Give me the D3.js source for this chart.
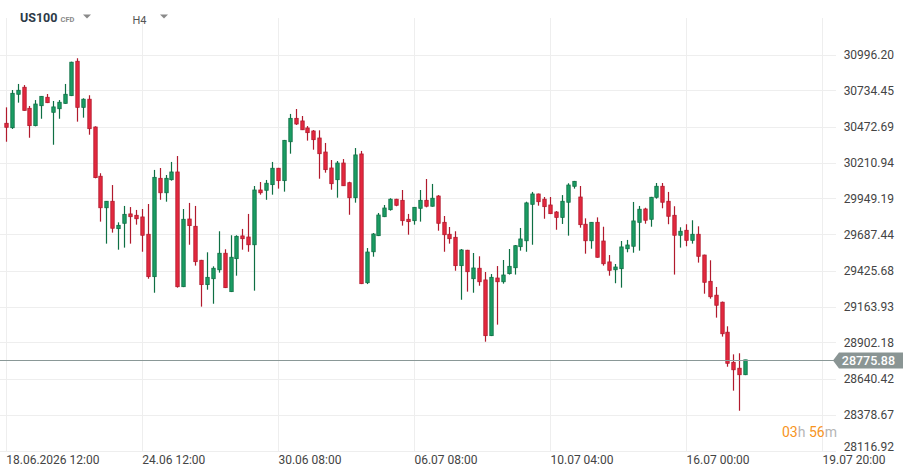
<!DOCTYPE html>
<html>
<head>
<meta charset="utf-8">
<script src="https://cdn.jsdelivr.net/npm/d3@7/dist/d3.min.js"></script>
<style>
  body { margin: 0; background: #fff; }
  svg { display: block; font-family: Roboto, "Noto Sans", sans-serif; }
</style>
</head>
<body>
<svg id="chart"></svg>
<script>
// US100 H4 candles
var opens = [30496,30464,30707,30758,30605,30479,30624,30685,30576,30602,
30641,30697,30947,30612,30671,30469,30111,29882,29929,29730,
29769,29837,29827,29815,29689,29381,30096,29991,30086,30142,
29308,29800,29747,29500,29323,29366,29431,29551,29272,29512,
29677,29669,29613,30011,30009,30050,30169,30079,30362,30532,
30513,30462,30440,30389,30287,30171,30086,30207,30064,29955,
30273,29337,29562,29679,29817,29868,29944,29936,29798,29788,
29878,29936,29893,29967,29776,29689,29667,29461,29573,29366,
29442,29357,28952,29371,29344,29403,29446,29599,29642,29907,
29982,29944,29902,29851,29812,29922,30038,29960,29762,29642,
29776,29640,29488,29431,29439,29584,29602,29776,29873,29798,
29958,30038,29929,29827,29682,29718,29645,29689,29538,29347,
29246,29195,28977,28758,28715,28668];

var highs = [30612,30738,30782,30774,30622,30665,30694,30709,30658,30665,
30782,30944,30969,30678,30700,30474,30133,29931,30047,29776,
29895,29887,29866,29873,29909,30157,30171,30120,30215,30258,
29873,29917,29895,29503,29558,29456,29711,29580,29682,29682,
29728,29837,30040,30069,30084,30215,30172,30375,30564,30600,
30549,30476,30447,30445,30353,30229,30222,30236,30071,30316,
30295,29589,29698,29844,29902,29951,29947,30011,29837,29887,
30011,30091,30055,29974,29822,29742,29711,29582,29576,29553,
29529,29415,29400,29458,29502,29582,29611,29735,29926,29997,
29985,29960,29960,29858,29974,30060,30077,30040,29805,29778,
29812,29744,29538,29473,29640,29648,29924,29895,29882,29961,
30062,30062,29997,29893,29740,29762,29791,29747,29541,29500,
29306,29200,29020,28816,28824,28776];

var lows = [30362,30455,30646,30588,30391,30474,30529,30643,30340,30529,
30638,30694,30508,30537,30413,30096,29781,29621,29701,29577,
29592,29621,29759,29562,29366,29264,29940,29926,30079,29301,
29305,29613,29461,29163,29286,29184,29410,29298,29269,29388,
29577,29562,29279,29977,29940,29977,30021,29999,30275,30484,
30447,30370,30304,30093,30137,30013,29955,30040,29831,29919,
29327,29327,29526,29676,29814,29861,29893,29752,29686,29759,
29781,29885,29890,29715,29562,29621,29424,29213,29272,29264,
29315,28908,28949,29032,29330,29396,29396,29570,29562,29613,
29897,29802,29836,29722,29764,29679,30021,29737,29548,29584,
29519,29461,29388,29333,29301,29558,29555,29570,29766,29744,
29948,29878,29762,29396,29592,29602,29621,29483,29257,29221,
29083,28945,28726,28552,28406,28665];

var closes = [30467,30714,30736,30590,30479,30636,30692,30646,30615,30649,
30707,30940,30612,30671,30457,30101,29882,29929,29733,29754,
29834,29817,29802,29682,29381,30103,29991,30096,30142,29308,
29798,29752,29490,29323,29376,29442,29551,29301,29522,29674,
29657,29613,30011,29991,30060,30169,30079,30372,30532,30491,
30449,30428,30377,30275,30159,30057,30207,30042,29955,30266,
29330,29560,29691,29829,29880,29944,29900,29788,29781,29885,
29936,29893,29951,29769,29686,29657,29461,29575,29417,29444,
29344,28952,29376,29344,29393,29456,29606,29655,29917,29982,
29926,29890,29839,29812,29929,30047,30074,29759,29642,29776,
29522,29475,29427,29451,29597,29611,29786,29871,29791,29958,
30038,29922,29820,29682,29711,29645,29689,29529,29340,29235,
29173,28966,28751,28704,28668,28775.88];

var priceTicks = [30996.20,30734.45,30472.69,30210.94,29949.19,29687.44,
  29425.68,29163.93,28902.18,28640.42,28378.67,28116.92];
var timeTickIdx = [0,23,46,69,92,115,138];
var timeTickLabels = ["18.06.2026 12:00","24.06 12:00","30.06 08:00",
  "06.07 08:00","10.07 04:00","16.07 00:00","19.07 20:00"];
var lastPrice = 28775.88;

var W = 905, H = 476;
var svg = d3.select("#chart").attr("width", W).attr("height", H);

var x = d3.scaleLinear().domain([0, 138]).range([5.8, 822.1]);
var y = d3.scaleLinear().domain([28116.92, 30996.20]).range([450.5, 54.5]);

// grid
var grid = svg.append("g");
grid.selectAll(".hg").data(priceTicks).enter().append("line")
  .attr("x1", 0).attr("x2", 836)
  .attr("y1", function(d) { return Math.round(y(d)) + 0.5; })
  .attr("y2", function(d) { return Math.round(y(d)) + 0.5; })
  .attr("stroke", "#eeeeee");
grid.selectAll(".vg").data(timeTickIdx).enter().append("line")
  .attr("x1", function(d) { return Math.round(x(d)) + 0.5; })
  .attr("x2", function(d) { return Math.round(x(d)) + 0.5; })
  .attr("y1", 18).attr("y2", 451)
  .attr("stroke", "#eeeeee");

// y labels
svg.append("g").selectAll("text").data(priceTicks).enter().append("text")
  .attr("x", 894)
  .attr("y", function(d, i) { return y(d) + (i == priceTicks.length - 1 ? -4 : 0); })
  .attr("dy", "0.35em")
  .attr("text-anchor", "end")
  .attr("font-size", 12)
  .attr("fill", "#444")
  .text(function(d) { return d.toFixed(2); });

// time labels
svg.append("g").selectAll("text").data(timeTickIdx).enter().append("text")
  .attr("x", function(d) { return x(d) + 0.5; })
  .attr("y", 464)
  .attr("font-size", 12)
  .attr("fill", "#444")
  .text(function(d, i) { return timeTickLabels[i]; });

// candles
var candles = d3.range(opens.length).map(function(i) {
  return {i: i, o: opens[i], h: highs[i], l: lows[i], c: closes[i]};
});
var up = {fill: "#1b9c63", line: "#0e6f44"};
var down = {fill: "#e3283e", line: "#b11a2d"};

var cg = svg.append("g").selectAll("g").data(candles).enter().append("g");
cg.append("line")
  .attr("x1", function(d) { return Math.round(x(d.i)) + 0.5; })
  .attr("x2", function(d) { return Math.round(x(d.i)) + 0.5; })
  .attr("y1", function(d) { return y(d.h); })
  .attr("y2", function(d) { return y(d.l); })
  .attr("stroke", function(d) { return d.c >= d.o ? up.line : down.line; })
  .attr("stroke-width", 1.2);
cg.append("rect")
  .attr("x", function(d) { return Math.round(x(d.i)) - 1.2; })
  .attr("width", 3.4)
  .attr("y", function(d) { return y(Math.max(d.o, d.c)); })
  .attr("height", function(d) { return Math.max(1, Math.abs(y(d.o) - y(d.c))); })
  .attr("fill", function(d) { return d.c >= d.o ? up.fill : down.fill; })
  .attr("stroke", function(d) { return d.c >= d.o ? up.line : down.line; })
  .attr("stroke-width", 0.8);

// last price line + label
var ly = Math.round(y(lastPrice)) + 0.5;
svg.append("line")
  .attr("x1", 0).attr("x2", 834)
  .attr("y1", ly).attr("y2", ly)
  .attr("stroke", "#8a9897").attr("stroke-width", 1);
svg.append("path")
  .attr("d", "M833," + ly + "L839," + (ly - 8) + "H903V" + (ly + 8) + "H839Z")
  .attr("fill", "#8a9594");
svg.append("text")
  .attr("x", 895).attr("y", ly).attr("dy", "0.36em")
  .attr("text-anchor", "end")
  .attr("font-size", 12.5).attr("font-weight", 500)
  .attr("fill", "#fff")
  .text(lastPrice.toFixed(2));

// countdown
var cd = svg.append("text").attr("x", 782).attr("y", 437).attr("font-size", 14);
cd.append("tspan").attr("fill", "#f7941d").text("03");
cd.append("tspan").attr("fill", "#b5b5b5").text("h ");
cd.append("tspan").attr("fill", "#f7941d").text("56");
cd.append("tspan").attr("fill", "#b5b5b5").text("m");

// header
svg.append("text").attr("x", 20).attr("y", 22)
  .attr("font-size", 12.5).attr("font-weight", "bold").attr("fill", "#2c3a47")
  .text("US100");
svg.append("text").attr("x", 60.5).attr("y", 21.5)
  .attr("font-size", 7.5).attr("font-weight", "bold").attr("fill", "#8a8a8a")
  .text("CFD");
svg.append("path").attr("d", "M83,14.5H91L87,18.5Z").attr("fill", "#8a8a8a");
svg.append("text").attr("x", 132.5).attr("y", 24)
  .attr("font-size", 11).attr("fill", "#555")
  .text("H4");
svg.append("path").attr("d", "M160,14.5H168L164,18.5Z").attr("fill", "#8a8a8a");
</script>
</body>
</html>
